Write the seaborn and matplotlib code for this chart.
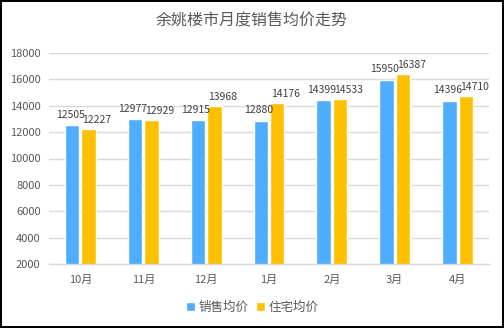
import matplotlib
matplotlib.use("Agg")
import matplotlib.pyplot as plt
import seaborn as sns
import pandas as pd

months = ["10月", "11月", "12月", "1月", "2月", "3月", "4月"]
sales_avg = [12505, 12977, 12915, 12880, 14399, 15950, 14396]
house_avg = [12227, 12929, 13968, 14176, 14533, 16387, 14710]
series_names = ["销售均价", "住宅均价"]
colors = ["#4FADFF", "#FFC000"]
yticks = [2000, 4000, 6000, 8000, 10000, 12000, 14000, 16000, 18000]

df = pd.DataFrame({
    "month": months * 2,
    "price": sales_avg + house_avg,
    "series": [series_names[0]] * len(months) + [series_names[1]] * len(months),
})

sns.set_theme(style="white")
plt.rcParams["font.family"] = ["Noto Sans CJK SC", "DejaVu Sans"]

fig = plt.figure(figsize=(5.04, 3.28), dpi=100)
fig.patch.set_facecolor("white")
fig.patch.set_edgecolor("black")
fig.patch.set_linewidth(1.5)
ax = fig.add_axes([49 / 504, 1 - 264 / 328, 440 / 504, (264 - 53) / 328])

sns.barplot(data=df, x="month", y="price", hue="series", order=months,
            hue_order=series_names, palette=colors, width=0.52, gap=0.12,
            saturation=1, ax=ax, legend=True)

ax.set_ylim(2000, 18000)
ax.set_yticks(yticks)
ax.set_yticklabels([str(v) for v in yticks])
ax.set_xlim(-0.5, len(months) - 0.5)
ax.yaxis.grid(True, color="#D9D9D9", linewidth=1)
ax.set_axisbelow(True)
for s in ["top", "right", "left"]:
    ax.spines[s].set_visible(False)
ax.spines["bottom"].set_color("#D9D9D9")
ax.spines["bottom"].set_linewidth(1)
ax.tick_params(axis="both", length=0, labelsize=8, colors="#595959", pad=6)
ax.tick_params(axis="x", pad=8)
ax.set_xlabel("")
ax.set_ylabel("")

offsets = [(-1.5, 4), (6, 3)]
for cont, (dx, dy) in zip(ax.containers, offsets):
    for bar in cont:
        h = bar.get_height()
        ax.annotate(f"{int(round(h))}", (bar.get_x() + bar.get_width() / 2, h),
                    xytext=(dx, dy), textcoords="offset points", ha="center", va="bottom",
                    fontsize=7.5, color="#404040")

leg = ax.legend(loc="center", bbox_to_anchor=(0.5, 1 - 307 / 328), bbox_transform=fig.transFigure,
                ncol=2, frameon=False, fontsize=9, handlelength=0.7, handleheight=0.7,
                handletextpad=0.3, columnspacing=0.6)
for t in leg.get_texts():
    t.set_color("#595959")

fig.text(0.5, 1 - 21 / 328, "余姚楼市月度销售均价走势", ha="center", va="center",
         fontsize=11.5, color="#595959")

fig.savefig("out.png", dpi=100, facecolor=fig.get_facecolor(), edgecolor=fig.get_edgecolor())
